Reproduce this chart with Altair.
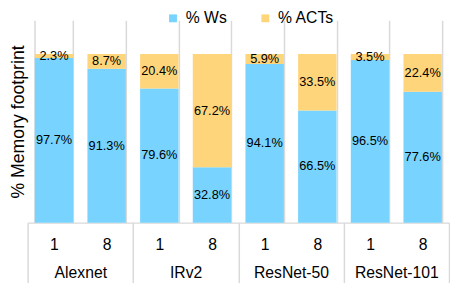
import altair as alt
import pandas as pd

networks = ["Alexnet", "IRv2", "ResNet-50", "ResNet-101"]
batches = ["1", "8"]
ws_pct = [97.7, 91.3, 79.6, 32.8, 94.1, 66.5, 96.5, 77.6]
acts_pct = [2.3, 8.7, 20.4, 67.2, 5.9, 33.5, 3.5, 22.4]
series = ["% Ws", "% ACTs"]
colors = ["#78D4FE", "#FED57B"]

FONT = "Liberation Sans"
GRID = "#d9d9d9"

rows = []
keys = []
for i, net in enumerate(networks):
    for j, b in enumerate(batches):
        k = i * 2 + j
        key = f"{net}|{b}"
        keys.append(key)
        rows.append(dict(key=key, net=net, batch=b, series=series[0], order=0, value=ws_pct[k]))
        rows.append(dict(key=key, net=net, batch=b, series=series[1], order=1, value=acts_pct[k]))
df = pd.DataFrame(rows)

base = alt.Chart(df).transform_stack(
    stack="value", groupby=["key"], as_=["y0", "y1"], sort=[alt.SortField("order")]
).transform_calculate(
    mid="(datum.y0 + datum.y1) / 2",
    label="format(datum.value, '.1f') + '%'",
)

x_enc = alt.X(
    "key:N",
    sort=keys,
    scale=alt.Scale(paddingInner=0.27, paddingOuter=0.135),
    axis=alt.Axis(
        title=None,
        labelExpr="split(datum.label, '|')[1]",
        labelAngle=0,
        labelFontSize=16,
        labelFont=FONT,
        labelColor="black",
        labelPadding=14,
        ticks=False,
        domain=True,
        domainColor=GRID,
        domainWidth=1.5,
        grid=True,
        gridColor=GRID,
        gridWidth=1.5,
        tickBand="extent",
    ),
)

bars = base.mark_bar().encode(
    x=x_enc,
    y=alt.Y(
        "y0:Q",
        scale=alt.Scale(domain=[0, 118]),
        axis=alt.Axis(
            title="% Memory footprint",
            titleFontSize=18,
            titleFont=FONT,
            titleFontWeight="normal",
            titleColor="black",
            labels=False,
            ticks=False,
            domain=False,
            grid=False,
            titlePadding=0,
        ),
    ),
    y2="y1:Q",
    color=alt.Color(
        "series:N",
        scale=alt.Scale(domain=series, range=colors),
        legend=alt.Legend(
            title=None,
            orient="none",
            legendX=140,
            legendY=-10,
            direction="horizontal",
            symbolType="square",
            symbolSize=64,
            symbolStrokeWidth=0,
            symbolOpacity=1,
            labelFontSize=16,
            labelFont=FONT,
            labelColor="black",
            labelOffset=5,
            columnPadding=31,
        ),
    ),
)

texts = base.mark_text(fontSize=13, font=FONT, color="black").encode(
    x=alt.X("key:N", sort=keys),
    y=alt.Y("mid:Q"),
    text="label:N",
)

groups = alt.Chart(pd.DataFrame({"net": networks})).mark_point(opacity=0).encode(
    x=alt.X(
        "net:N",
        sort=networks,
        scale=alt.Scale(type="band", paddingInner=0, paddingOuter=0),
        axis=alt.Axis(
            title=None,
            orient="bottom",
            labelAngle=0,
            labelFontSize=16,
            labelFont=FONT,
            labelColor="black",
            domain=False,
            ticks=True,
            tickSize=61,
            tickColor=GRID,
            tickWidth=1.5,
            tickBand="extent",
            labelPadding=-18,
            grid=False,
        ),
    )
)

inner = alt.layer(bars, texts)
chart = alt.layer(inner, groups).resolve_scale(x="independent").properties(
    width=429, height=206, padding={"left": 2, "top": 0, "right": 0, "bottom": 0}
).configure_view(stroke=None)

chart.save("out.html", embed_options={"renderer": "svg", "actions": False})
